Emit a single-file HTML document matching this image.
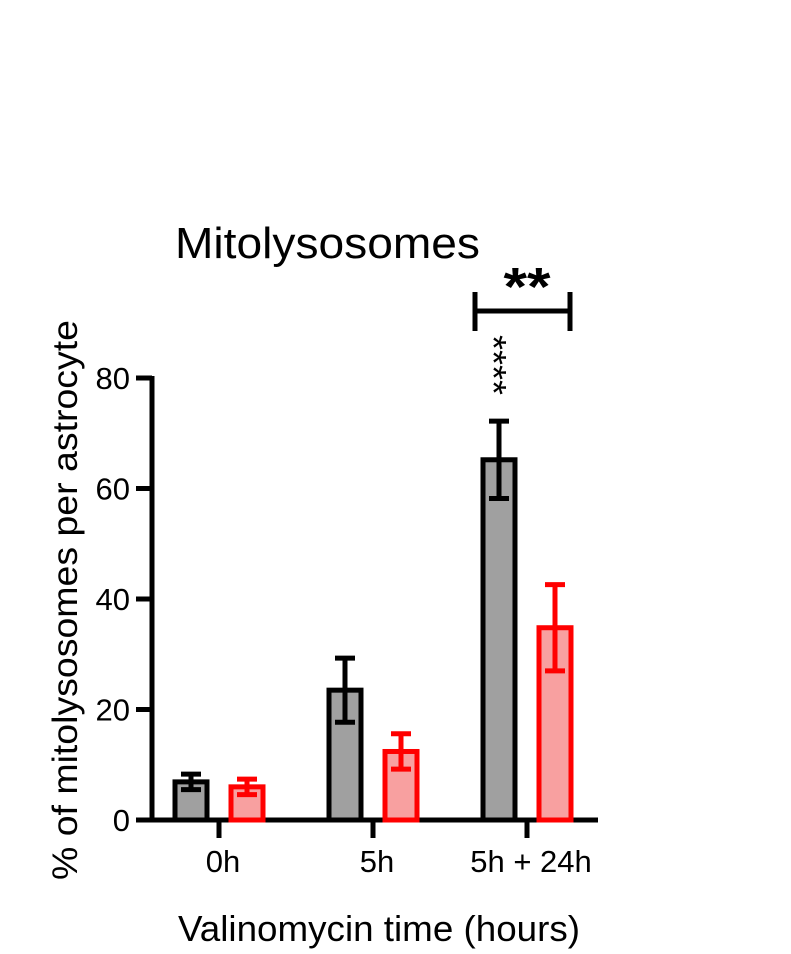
<!DOCTYPE html>
<html><head><meta charset="utf-8"><style>
body{margin:0;background:#fff;}
svg{display:block;font-family:"Liberation Sans",Arial,sans-serif;}
</style></head><body>
<svg id="chart" width="791" height="954">
<text x="175" y="258" font-size="44" textLength="305" lengthAdjust="spacingAndGlyphs">Mitolysosomes</text>
<text transform="translate(77,600) rotate(-90)" text-anchor="middle" font-size="35" textLength="560" lengthAdjust="spacingAndGlyphs">% of mitolysosomes per astrocyte</text>
<text x="379" y="941" text-anchor="middle" font-size="36" textLength="402" lengthAdjust="spacingAndGlyphs">Valinomycin time (hours)</text>
<g id="axes"></g>
<g id="bars"></g>
<g stroke="#000" stroke-width="5">
<line x1="475" y1="311" x2="570" y2="311"/><line x1="475" y1="292" x2="475" y2="331"/><line x1="570" y1="292" x2="570" y2="331"/>
</g>
<text x="527" y="305" text-anchor="middle" font-size="54" font-weight="bold" textLength="47" lengthAdjust="spacingAndGlyphs">**</text>
<text transform="translate(481,335) rotate(90)" font-size="36" textLength="60" lengthAdjust="spacingAndGlyphs">****</text>
</svg>
<script>
const categories=["0h","5h","5h + 24h"];
const grayValues=[6.9,23.5,65.2];
const grayErr=[1.4,5.8,7.0];
const redValues=[6.0,12.4,34.8];
const redErr=[1.4,3.2,7.8];
const yTicks=[0,20,40,60,80];
const NS="http://www.w3.org/2000/svg";
function y(v){return 820-v*5.525;}
function xc(i){return 219+i*154;}
function mk(tag,attrs,parent){const e=document.createElementNS(NS,tag);for(const k in attrs)e.setAttribute(k,attrs[k]);parent.appendChild(e);return e;}
const axes=document.getElementById('axes');
const bars=document.getElementById('bars');
let yl=mk('line',{x1:152,y1:y(80)-2,x2:152,y2:822,stroke:'#000','stroke-width':5},axes);


let xl=mk('line',{x1:150,y1:820,x2:598,y2:820,stroke:'#000','stroke-width':5},axes);


yTicks.forEach(t=>{
 let l=mk('line',{x1:136,y1:y(t),x2:152,y2:y(t),stroke:'#000','stroke-width':5},axes);
 
 
 let tx=mk('text',{x:130,y:y(t)+11,'text-anchor':'end','font-size':31},axes);
 tx.textContent=t;
 
 
});
categories.forEach((c,i)=>{
 let l=mk('line',{x1:xc(i),y1:820,x2:xc(i),y2:838,stroke:'#000','stroke-width':5},axes);
 
 
 let tx=mk('text',{x:xc(i)+4,y:872,'text-anchor':'middle','font-size':31},axes);
 tx.textContent=c;
 
 
});
function drawBar(cx,v,e,fill,stroke,name){
 const g=mk('g',{},bars);
 
 
 mk('rect',{x:cx-16,y:y(v),width:32,height:820-y(v),fill:fill,stroke:stroke,'stroke-width':5},g);
 mk('line',{x1:cx,y1:y(v+e),x2:cx,y2:y(Math.max(v-e,0)),stroke:stroke,'stroke-width':5},g);
 mk('line',{x1:cx-10,y1:y(v+e),x2:cx+10,y2:y(v+e),stroke:stroke,'stroke-width':5},g);
 mk('line',{x1:cx-10,y1:y(Math.max(v-e,0)),x2:cx+10,y2:y(Math.max(v-e,0)),stroke:stroke,'stroke-width':5},g);
}
categories.forEach((c,i)=>{
 drawBar(xc(i)-28,grayValues[i],grayErr[i],'#a0a0a0','#000','bar-gray-'+i);
 drawBar(xc(i)+28,redValues[i],redErr[i],'#f8a0a0','#ff0000','bar-red-'+i);
});
</script>
</body></html>
